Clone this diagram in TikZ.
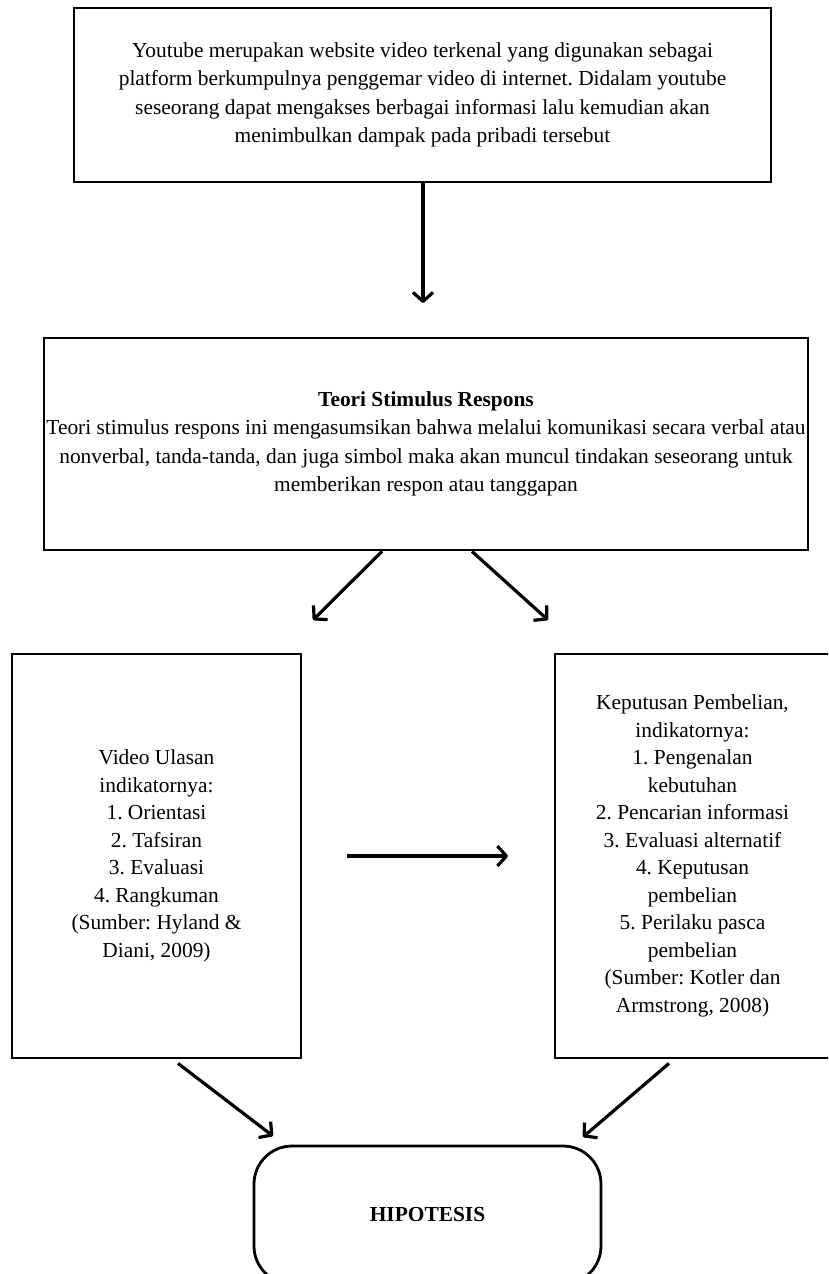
\documentclass[tikz,border=0pt]{standalone}
\usepackage{fontspec}
\setmainfont{Liberation Serif}
\usetikzlibrary{arrows.meta,calc}
\frenchspacing
\begin{document}
\begin{tikzpicture}[x=1pt,y=-1pt,
  box/.style={draw, line width=2.8pt, align=center, inner sep=0pt,
    font=\frenchspacing\fontsize{21.4}{28.5}\selectfont},
  sidebox/.style={box, font=\frenchspacing\fontsize{21.4}{27.5}\selectfont},
  arr/.style={line width=3.2pt, -{Straight Barb[length=9pt,width=20pt,line join=round]}}]
\useasboundingbox (0,0) rectangle (828,1274);
\clip (0,0) rectangle (828,1274);

\node[box, minimum width=697, minimum height=174] (top) at (422.5,95)
 {Youtube merupakan website video terkenal yang digunakan sebagai\\
  platform berkumpulnya penggemar video di internet. Didalam youtube\\
  seseorang dapat mengakses berbagai informasi lalu kemudian akan\\
  menimbulkan dampak pada pribadi tersebut};

\node[box, minimum width=764, minimum height=212] (mid) at (426,444)
 {\textbf{Teori Stimulus Respons}\\
  Teori stimulus respons ini mengasumsikan bahwa melalui komunikasi secara verbal atau\\
  nonverbal, tanda-tanda, dan juga simbol maka akan muncul tindakan seseorang untuk\\
  memberikan respon atau tanggapan};

\node[sidebox, minimum width=289, minimum height=404] (left) at (156.5,856)
 {Video Ulasan\\ indikatornya:\\ 1. Orientasi\\ 2. Tafsiran\\ 3. Evaluasi\\
  4. Rangkuman\\ (Sumber: Hyland \&\\ Diani, 2009)};

\node[sidebox, minimum width=275, minimum height=404] (right) at (692.5,856)
 {Keputusan Pembelian,\\ indikatornya:\\ 1. Pengenalan\\ kebutuhan\\
  2. Pencarian informasi\\ 3. Evaluasi alternatif\\ 4. Keputusan\\ pembelian\\
  5. Perilaku pasca\\ pembelian\\ (Sumber: Kotler dan\\ Armstrong, 2008)};

\node[draw, line width=2.8pt, rounded corners=38pt, minimum width=347,
  minimum height=138, font=\fontsize{21.4}{28.5}\selectfont\bfseries] (hip) at (427.5,1215) {HIPOTESIS};

\coordinate (t1) at (423,303);
\coordinate (t2) at (313,620);
\coordinate (t3) at (548,620);
\coordinate (h0) at (347,856);
\coordinate (t4) at (508,856);
\coordinate (t5) at (273,1136);
\coordinate (t6) at (583,1137);

\draw[arr] ($(top.south)+(0.5,0)$) -- (t1);
\draw[arr] ($(mid.south)+(-44,0)$) -- (t2);
\draw[arr] ($(mid.south)+(46,0)$) -- (t3);
\draw[arr] (h0) -- (t4);
\draw[arr] ($(left.south)+(21.5,4)$) -- (t5);
\draw[arr] ($(right.south)+(-23.5,4)$) -- (t6);
\end{tikzpicture}
\end{document}
